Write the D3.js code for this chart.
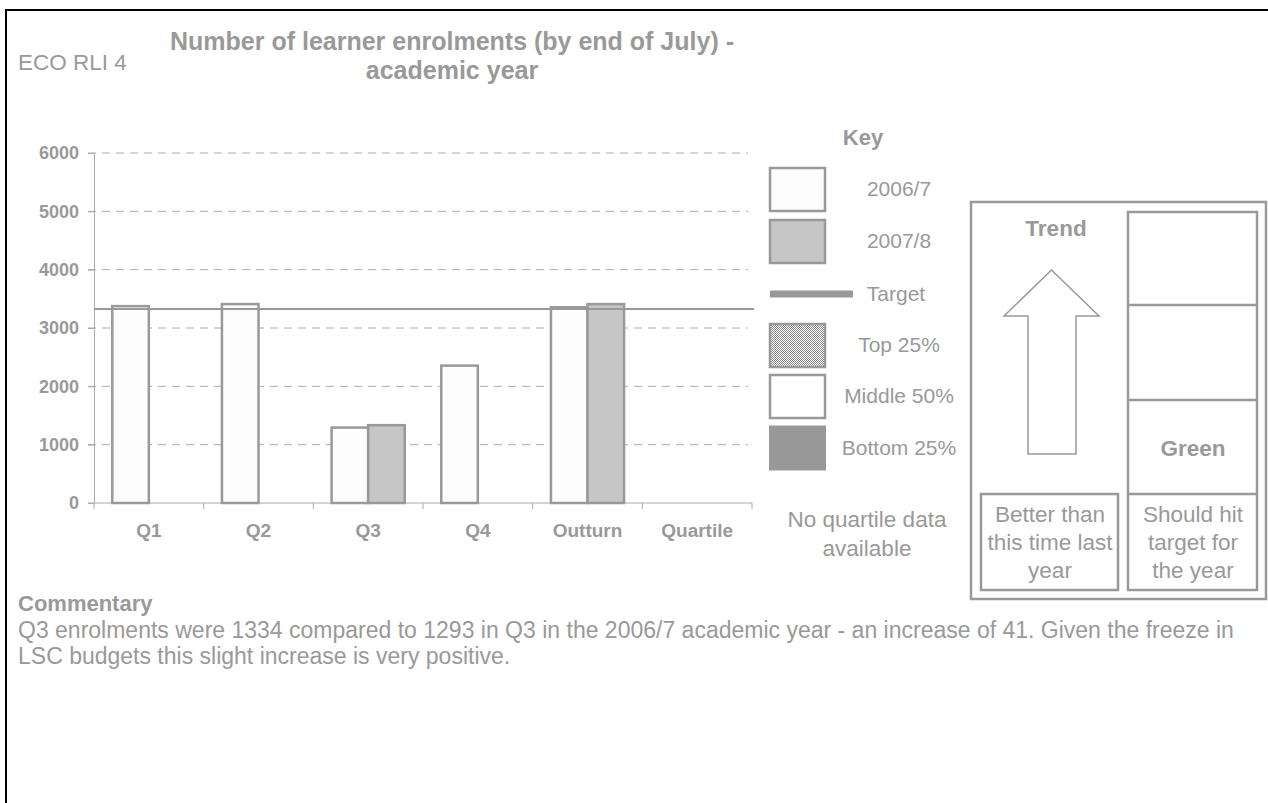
<!DOCTYPE html>
<html>
<head>
<meta charset="utf-8">
<script src="https://cdn.jsdelivr.net/npm/d3@7"></script>
<style>
  html, body { margin: 0; padding: 0; background: #fff; }
  svg { display: block; font-family: "Liberation Sans", Arial, sans-serif; }
</style>
</head>
<body>
<svg id="chart" width="1268" height="803"></svg>
<script>
// ---- data ----
const categories = ["Q1", "Q2", "Q3", "Q4", "Outturn", "Quartile"];
const seriesNames = ["2006/7", "2007/8"];
const values2006 = [3375, 3410, 1293, 2355, 3355, null];
const values2007 = [null, null, 1334, null, 3410, null];
const targetValue = 3325;
const yTicks = [0, 1000, 2000, 3000, 4000, 5000, 6000];
const keyLabels = ["2006/7", "2007/8", "Target", "Top 25%", "Middle 50%", "Bottom 25%"];
const titleLines = ["Number of learner enrolments (by end of July) -", "academic year"];
const commentaryLines = [
  "Q3 enrolments were 1334 compared to 1293 in Q3 in the 2006/7 academic year - an increase of 41. Given the freeze in",
  "LSC budgets this slight increase is very positive."
];

const GREY = "#999999";
const svg = d3.select("#chart");

// pattern for Top 25%
const defs = svg.append("defs");
const pat = defs.append("pattern").attr("id", "checker")
  .attr("width", 2).attr("height", 2).attr("patternUnits", "userSpaceOnUse");
pat.append("rect").attr("width", 2).attr("height", 2).attr("fill", "#fff");
pat.append("rect").attr("width", 1).attr("height", 1).attr("fill", "#888");
pat.append("rect").attr("x", 1).attr("y", 1).attr("width", 1).attr("height", 1).attr("fill", "#888");

// outer border (top and left)
svg.append("path").attr("d", "M6,803 L6,10 L1268,10")
  .attr("fill", "none").attr("stroke", "#000").attr("stroke-width", 2);

// header
svg.append("text").attr("x", 18).attr("y", 70).attr("font-size", 22.5).attr("fill", GREY).text("ECO RLI 4");
svg.selectAll("text.title").data(titleLines).join("text")
  .attr("class", "title")
  .attr("x", 452).attr("y", (d, i) => 50 + i * 29)
  .attr("text-anchor", "middle").attr("font-size", 25).attr("font-weight", "bold")
  .attr("fill", GREY).text(d => d);

// ---- chart ----
const x0 = d3.scaleBand().domain(categories).range([94, 752]).padding(0);
const bw = x0.bandwidth();
const x1 = d3.scaleBand().domain(seriesNames).range([bw / 6, bw * 5 / 6]).padding(0);
const y = d3.scaleLinear().domain([0, 6000]).range([503, 153]);

// gridlines
svg.append("g").selectAll("line").data(yTicks.filter(t => t > 0)).join("line")
  .attr("x1", 88).attr("x2", 748)
  .attr("y1", d => y(d)).attr("y2", d => y(d))
  .attr("stroke", "#aaaaaa").attr("stroke-width", 1).attr("stroke-dasharray", "8,6");

// y axis
const yAxis = svg.append("g").attr("transform", "translate(94,0)")
  .call(d3.axisLeft(y).tickValues(yTicks).tickSize(6).tickPadding(9).tickFormat(d3.format("d")));
yAxis.select(".domain").attr("stroke", "#aaaaaa");
yAxis.selectAll(".tick line").attr("stroke", "#aaaaaa");
yAxis.selectAll("text").attr("fill", GREY).attr("font-size", 18).attr("font-weight", "bold")
  .attr("font-family", "Liberation Sans, Arial, sans-serif");

// x axis
const xAxisScale = d3.scaleLinear().domain([0, categories.length]).range([94, 752]);
const xAxis = svg.append("g").attr("transform", "translate(0,503)");
xAxis.append("line").attr("x1", 88).attr("x2", 752).attr("y1", 0).attr("y2", 0).attr("stroke", "#aaaaaa");
xAxis.selectAll("line.tk").data(d3.range(categories.length + 1)).join("line")
  .attr("class", "tk")
  .attr("x1", d => xAxisScale(d)).attr("x2", d => xAxisScale(d))
  .attr("y1", 0).attr("y2", 6).attr("stroke", "#aaaaaa");
xAxis.selectAll("text").data(categories).join("text")
  .attr("x", d => x0(d) + bw / 2).attr("y", 34)
  .attr("text-anchor", "middle").attr("font-size", 19).attr("font-weight", "bold")
  .attr("fill", GREY).text(d => d);

// bars
const barData = [];
categories.forEach((c, i) => {
  if (values2006[i] != null) barData.push({ c, s: seriesNames[0], v: values2006[i], fill: "#fdfdfd" });
  if (values2007[i] != null) barData.push({ c, s: seriesNames[1], v: values2007[i], fill: "#c6c6c6" });
});
svg.append("g").selectAll("rect").data(barData).join("rect")
  .attr("x", d => x0(d.c) + x1(d.s))
  .attr("width", x1.bandwidth())
  .attr("y", d => y(d.v))
  .attr("height", d => y(0) - y(d.v))
  .attr("fill", d => d.fill)
  .attr("stroke", "#999999").attr("stroke-width", 2.5);

// target line
svg.append("line")
  .attr("x1", 94).attr("x2", 754)
  .attr("y1", y(targetValue)).attr("y2", y(targetValue))
  .attr("stroke", "#999999").attr("stroke-width", 2);

// ---- key ----
svg.append("text").attr("x", 863).attr("y", 145).attr("text-anchor", "middle")
  .attr("font-size", 22).attr("font-weight", "bold").attr("fill", GREY).text("Key");

const keyY = [189, 241, 294, 345, 396, 448];
const key = svg.append("g");
const boxSpec = [
  { i: 0, fill: "#fdfdfd", stroke: true },
  { i: 1, fill: "#c6c6c6", stroke: true },
  { i: 3, fill: "url(#checker)", stroke: true },
  { i: 4, fill: "#ffffff", stroke: true },
  { i: 5, fill: "#999999", stroke: false }
];
key.selectAll("rect").data(boxSpec).join("rect")
  .attr("x", d => d.stroke ? 770 : 769)
  .attr("y", d => keyY[d.i] - (d.stroke ? 21 : 22.5))
  .attr("width", d => d.stroke ? 55 : 57)
  .attr("height", d => d.stroke ? 43 : 45)
  .attr("fill", d => d.fill)
  .attr("stroke", d => d.stroke ? "#999999" : "none")
  .attr("stroke-width", 2.5);
key.append("line").attr("x1", 770).attr("x2", 853)
  .attr("y1", keyY[2]).attr("y2", keyY[2])
  .attr("stroke", "#999999").attr("stroke-width", 7);
const keyTextX = [899, 899, 896, 899, 899, 899];
key.selectAll("text").data(keyLabels).join("text")
  .attr("x", (d, i) => keyTextX[i]).attr("y", (d, i) => keyY[i] + 7)
  .attr("text-anchor", "middle").attr("font-size", 21).attr("fill", GREY).text(d => d);

svg.selectAll("text.nq").data(["No quartile data", "available"]).join("text")
  .attr("class", "nq")
  .attr("x", 867).attr("y", (d, i) => 527 + i * 29)
  .attr("text-anchor", "middle").attr("font-size", 22.5).attr("fill", GREY).text(d => d);

// ---- trend panel ----
const panel = svg.append("g").attr("fill", "none").attr("stroke", "#999999").attr("stroke-width", 2.5);
panel.append("rect").attr("x", 971).attr("y", 202).attr("width", 295).attr("height", 397);
panel.append("rect").attr("x", 1128).attr("y", 212).attr("width", 129).attr("height", 378);
panel.append("line").attr("x1", 1128).attr("x2", 1257).attr("y1", 305).attr("y2", 305);
panel.append("line").attr("x1", 1128).attr("x2", 1257).attr("y1", 400).attr("y2", 400);
panel.append("line").attr("x1", 1128).attr("x2", 1257).attr("y1", 494).attr("y2", 494);
panel.append("rect").attr("x", 981).attr("y", 494).attr("width", 137).attr("height", 96);

svg.append("path")
  .attr("d", "M1051.5,270 L1099,316 L1076,316 L1076,454 L1028,454 L1028,316 L1004,316 Z")
  .attr("fill", "#fff").attr("stroke", "#999999").attr("stroke-width", 1.5);

svg.append("text").attr("x", 1056).attr("y", 236).attr("text-anchor", "middle")
  .attr("font-size", 22.5).attr("font-weight", "bold").attr("fill", GREY).text("Trend");
svg.append("text").attr("x", 1193).attr("y", 456).attr("text-anchor", "middle")
  .attr("font-size", 22.5).attr("font-weight", "bold").attr("fill", GREY).text("Green");

svg.selectAll("text.bt").data(["Better than", "this time last", "year"]).join("text")
  .attr("class", "bt").attr("x", 1050).attr("y", (d, i) => 522 + i * 28)
  .attr("text-anchor", "middle").attr("font-size", 22.5).attr("fill", GREY).text(d => d);
svg.selectAll("text.sh").data(["Should hit", "target for", "the year"]).join("text")
  .attr("class", "sh").attr("x", 1193).attr("y", (d, i) => 522 + i * 28)
  .attr("text-anchor", "middle").attr("font-size", 22.5).attr("fill", GREY).text(d => d);

// ---- commentary ----
svg.append("text").attr("x", 18).attr("y", 611).attr("font-size", 22).attr("font-weight", "bold")
  .attr("fill", GREY).text("Commentary");
svg.selectAll("text.cm").data(commentaryLines).join("text")
  .attr("class", "cm").attr("x", 18).attr("y", (d, i) => 638 + i * 26)
  .attr("font-size", 23).attr("fill", GREY).text(d => d);
</script>
</body>
</html>
